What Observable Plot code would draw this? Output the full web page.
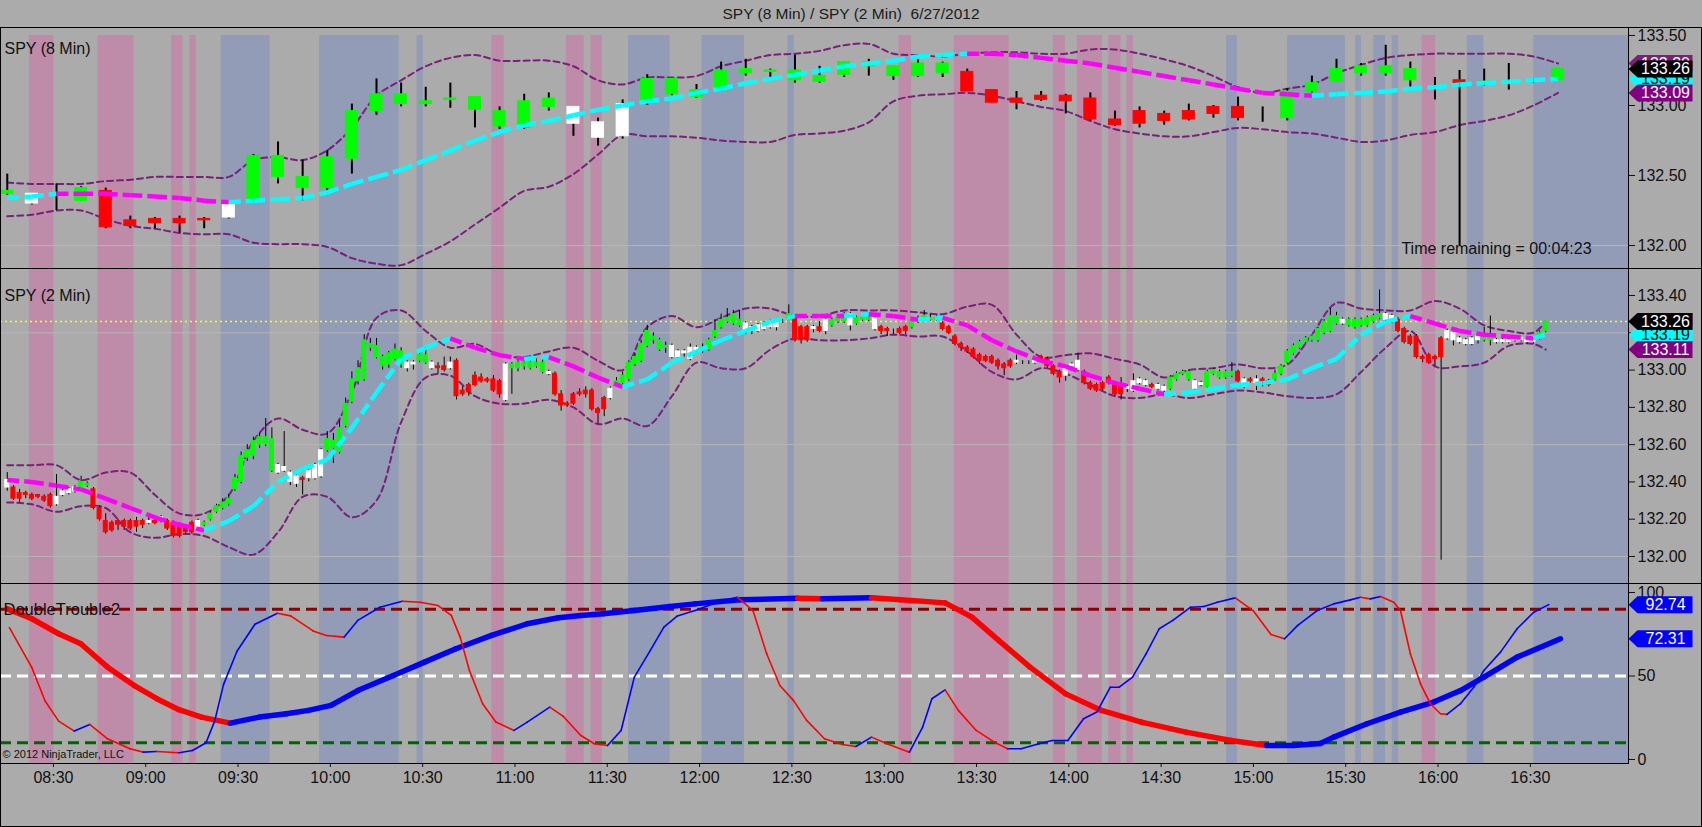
<!DOCTYPE html>
<html><head><meta charset="utf-8">
<script src="https://cdn.jsdelivr.net/npm/d3@7"></script>
<script src="https://cdn.jsdelivr.net/npm/@observablehq/plot@0.6"></script>
<style>
body{margin:0;background:#ababab;font-family:"Liberation Sans",Arial,sans-serif;}
#wrap{position:relative;width:1702px;height:827px;background:#ababab;overflow:hidden}
#title{position:absolute;left:0;top:0;width:1702px;height:27px;line-height:28px;text-align:center;font-size:15.5px;color:#1a1a1a;white-space:pre}
.panel{position:absolute;left:0}
.hl{position:absolute;height:1px;background:#000}
.vl{position:absolute;width:1px;background:#000}
</style></head><body>
<div id="wrap">
<div id="title">SPY (8 Min) / SPY (2 Min)  6/27/2012</div>
<div id="p1" class="panel" style="top:27px"></div>
<div id="p2" class="panel" style="top:268px"></div>
<div id="p3" class="panel" style="top:583px"></div>
<div class="hl" style="left:0;top:27px;width:1702px"></div>
<div class="hl" style="left:0;top:268px;width:1702px"></div>
<div class="hl" style="left:0;top:583px;width:1702px"></div>
<div class="hl" style="left:0;top:763px;width:1629px"></div>
<div class="hl" style="left:0;top:826px;width:1702px"></div>
<div class="vl" style="left:0;top:27px;height:800px"></div>
<div class="vl" style="left:1701px;top:27px;height:800px"></div>
<div class="vl" style="left:1628px;top:27px;height:737px"></div>
</div>
<script>
// ---------------- DATA ----------------
// shaded time bands (minutes after midnight)
const pinkStart = [502.2,524.5,548.4,554.3,652.5,676.7,684.7,784.8,802.8,835.0,842.8,853.0,858.9,954.8];
const pinkEnd   = [510.1,536.2,552.1,556.4,656.5,682.5,688.4,788.9,820.6,838.9,850.9,857.0,861.0,959.2];
const blueStart = [564.5,596.5,628.2,696.9,720.8,748.7,891.3,911.1,933.2,939.1,945.1,969.5,991.1];
const blueEnd   = [580.4,622.4,630.2,710.4,734.6,750.8,894.8,929.9,935.1,942.9,947.2,974.9,1021.9];

// SPY 8 min candles (first bar 08:15, every 8 min)
const o8 = [132.37,132.37,132.32,132.32,132.39,132.18,132.19,132.19,132.19,132.20,
132.32,132.49,132.41,132.41,132.62,132.96,133.01,133.01,133.04,132.97,
132.85,132.84,132.99,132.99,132.88,132.78,133.02,133.08,133.06,133.11,
133.23,133.24,133.18,133.17,133.22,133.28,133.21,133.21,133.23,133.24,
133.11,133.05,133.07,133.07,133.05,132.90,132.96,132.94,132.96,132.99,
132.99,132.91,132.91,133.10,133.17,133.23,133.23,133.18,133.18,133.18,
133.16,133.16,133.18,133.18];
const h8 = [132.51,132.37,132.44,132.42,132.41,132.21,132.20,132.21,132.20,132.32,
132.65,132.74,132.61,132.68,133.01,133.19,133.16,133.13,133.16,133.06,
132.99,133.08,133.09,132.99,132.91,133.04,133.22,133.19,133.15,133.31,
133.33,133.26,133.36,133.28,133.31,133.33,133.28,133.33,133.31,133.26,
133.11,133.10,133.10,133.08,133.09,132.96,132.99,132.96,133.01,133.00,
133.06,132.99,133.12,133.21,133.33,133.30,133.43,133.31,133.20,133.25,
133.26,133.30,133.19,133.26];
const l8 = [132.36,132.29,132.25,132.32,132.12,132.12,132.12,132.09,132.12,132.19,
132.31,132.44,132.32,132.39,132.51,132.93,132.99,132.99,132.98,132.84,
132.83,132.83,132.96,132.78,132.71,132.76,133.00,133.07,133.05,133.10,
133.21,133.20,133.16,133.16,133.20,133.21,133.18,133.20,133.20,133.10,
133.02,132.97,133.03,132.94,132.89,132.85,132.84,132.86,132.89,132.91,
132.89,132.88,132.89,133.09,133.17,133.21,133.21,133.13,133.04,132.00,
133.14,133.11,133.16,133.18];
const c8 = [132.39,132.30,132.32,132.41,132.13,132.14,132.16,132.16,132.18,132.31,
132.64,132.64,132.49,132.63,132.96,133.08,133.08,133.03,133.05,133.06,
132.96,133.03,133.05,132.87,132.77,133.01,133.19,133.19,133.11,133.25,
133.26,133.25,133.25,133.21,133.31,133.31,133.28,133.30,133.30,133.10,
133.02,133.02,133.04,133.03,132.90,132.86,132.87,132.89,132.90,132.94,
132.91,132.91,133.10,133.16,133.26,133.28,133.28,133.26,133.18,133.16,
133.17,133.17,133.18,133.26];
const col8 = "gwwgrrrrrw"+"gggggggggg"+"gggwwwgggg"+"gggggggggr"+"rrrrrrrrrr"+"rrggggggwr"+"ggwg";
const ma8 = [132.34,132.35,132.37,132.37,132.37,132.36,132.35,132.34,132.32,132.31,
132.32,132.33,132.34,132.38,132.44,132.49,132.54,132.61,132.68,132.75,
132.81,132.86,132.89,132.93,132.97,133.00,133.03,133.05,133.09,133.12,
133.16,133.19,133.22,133.25,133.28,133.30,133.32,133.35,133.36,133.37,
133.37,133.36,133.34,133.32,133.30,133.27,133.24,133.21,133.18,133.15,
133.12,133.09,133.08,133.07,133.08,133.09,133.10,133.12,133.13,133.15,
133.16,133.17,133.18,133.19];
const up8 = [132.45,132.44,132.44,132.44,132.46,132.47,132.49,132.49,132.49,132.49,
132.61,132.63,132.61,132.68,132.84,133.07,133.18,133.28,133.34,133.36,
133.32,133.32,133.32,133.28,133.18,133.15,133.20,133.20,133.21,133.28,
133.32,133.36,133.37,133.39,133.43,133.44,133.37,133.36,133.35,133.37,
133.38,133.38,133.37,133.37,133.40,133.40,133.37,133.33,133.28,133.21,
133.13,133.09,133.12,133.15,133.23,133.29,133.34,133.36,133.37,133.37,
133.37,133.37,133.35,133.30];
const lo8 = [132.21,132.22,132.25,132.25,132.19,132.14,132.12,132.09,132.08,132.08,
132.02,132.01,132.01,131.99,131.91,131.87,131.86,131.94,132.03,132.15,
132.27,132.39,132.42,132.51,132.65,132.79,132.78,132.78,132.77,132.75,
132.74,132.74,132.79,132.80,132.82,132.88,133.03,133.07,133.08,133.09,
133.07,133.03,132.99,132.96,132.89,132.83,132.80,132.78,132.78,132.81,
132.84,132.83,132.81,132.80,132.77,132.74,132.75,132.79,132.81,132.86,
132.89,132.93,133.00,133.09];

// SPY 2 min candles (first bar 08:15, every 2 min): body top / bottom, high, low
const top2 = [132.41,132.37,132.34,132.34,132.33,132.33,132.32,132.33,132.32,132.35,
132.36,132.37,132.40,132.39,132.36,132.26,132.19,132.18,132.19,132.19,
132.19,132.19,132.19,132.19,132.19,132.21,132.19,132.18,132.17,132.16,
132.18,132.19,132.18,132.23,132.27,132.29,132.31,132.42,132.54,132.57,
132.62,132.64,132.64,132.63,132.49,132.48,132.45,132.43,132.42,132.46,
132.49,132.57,132.63,132.62,132.69,132.82,132.95,133.01,133.16,133.14,
133.13,133.07,133.09,133.11,133.10,133.04,133.04,133.08,133.08,133.04,
133.02,133.02,133.04,133.05,132.89,132.92,132.97,132.96,132.95,132.95,
132.94,133.03,133.03,133.04,133.04,133.04,133.04,133.04,132.99,132.98,
132.87,132.82,132.87,132.88,132.89,132.89,132.79,132.85,132.90,132.94,
132.97,133.04,133.07,133.14,133.21,133.18,133.16,133.13,133.13,133.10,
133.10,133.12,133.12,133.12,133.16,133.21,133.27,133.28,133.30,133.27,
133.25,133.23,133.24,133.25,133.26,133.26,133.26,133.30,133.28,133.23,
133.23,133.23,133.23,133.27,133.27,133.28,133.30,133.30,133.28,133.28,
133.28,133.28,133.23,133.22,133.21,133.22,133.23,133.26,133.27,133.29,
133.28,133.28,133.25,133.23,133.18,133.14,133.12,133.11,133.08,133.07,
133.07,133.05,133.03,133.05,133.05,133.04,133.04,133.05,133.07,133.06,
133.02,132.99,133.01,133.03,133.05,132.99,132.93,132.92,132.93,132.96,
132.92,132.91,132.91,132.94,132.95,132.94,132.92,132.92,132.91,132.96,
132.98,132.99,132.99,132.94,132.93,132.99,133.00,132.99,132.99,132.99,
132.99,132.95,132.95,132.95,132.95,132.94,132.98,133.02,133.10,133.13,
133.15,133.17,133.18,133.22,133.26,133.29,133.29,133.27,133.27,133.27,
133.27,133.28,133.29,133.30,133.30,133.29,133.27,133.22,133.18,133.18,
133.07,133.08,133.07,133.17,133.21,133.20,133.17,133.16,133.17,133.18,
133.19,133.18,133.16,133.16,133.16,133.17,133.17,133.16,133.16,133.20,
133.26];
const bot2 = [132.37,132.31,132.31,132.33,132.31,132.32,132.30,132.27,132.28,132.33,
132.34,132.35,132.37,132.38,132.26,132.20,132.13,132.14,132.17,132.16,
132.15,132.16,132.17,132.18,132.18,132.19,132.15,132.11,132.11,132.13,
132.13,132.15,132.17,132.20,132.24,132.26,132.28,132.36,132.40,132.53,
132.54,132.60,132.60,132.46,132.45,132.46,132.40,132.39,132.41,132.42,
132.42,132.43,132.57,132.58,132.56,132.70,132.83,132.94,132.95,133.12,
133.07,133.02,133.03,133.06,133.03,133.01,133.03,133.05,133.04,133.01,
133.01,133.00,133.01,132.86,132.87,132.88,132.92,132.94,132.94,132.89,
132.87,132.84,133.01,133.01,133.02,133.01,133.02,132.99,132.98,132.87,
132.81,132.81,132.82,132.87,132.87,132.79,132.77,132.79,132.85,132.92,
132.93,132.95,133.03,133.05,133.13,133.16,133.11,133.12,133.07,133.07,
133.09,133.06,133.10,133.11,133.11,133.18,133.23,133.26,133.25,133.24,
133.21,133.21,133.21,133.22,133.23,133.23,133.26,133.28,133.16,133.16,
133.16,133.22,133.21,133.21,133.24,133.26,133.26,133.24,133.25,133.27,
133.27,133.22,133.21,133.21,133.21,133.20,133.21,133.23,133.26,133.27,
133.27,133.27,133.22,133.20,133.14,133.12,133.10,133.07,133.05,133.05,
133.04,133.02,133.01,133.02,133.04,133.04,133.04,133.04,133.06,133.02,
132.98,132.96,132.97,133.02,133.00,132.93,132.90,132.89,132.90,132.93,
132.87,132.87,132.90,132.89,132.93,132.92,132.91,132.90,132.89,132.90,
132.95,132.98,132.95,132.90,132.92,132.91,132.98,132.96,132.96,132.97,
132.94,132.91,132.94,132.93,132.92,132.92,132.95,132.98,133.04,133.09,
133.12,133.15,133.16,133.16,133.20,133.21,133.25,133.25,133.24,133.23,
133.24,133.24,133.26,133.28,133.27,133.27,133.21,133.15,133.14,133.07,
133.06,133.04,133.06,133.07,133.17,133.16,133.15,133.14,133.14,133.16,
133.16,133.16,133.15,133.15,133.15,133.16,133.16,133.15,133.15,133.17,
133.21];
const hi2 = [132.45,132.38,132.36,132.35,132.34,132.33,132.33,132.34,132.44,132.36,
132.37,132.38,132.43,132.40,132.37,132.27,132.23,132.19,132.20,132.20,
132.20,132.21,132.20,132.22,132.20,132.22,132.20,132.19,132.18,132.17,
132.19,132.20,132.19,132.24,132.28,132.31,132.33,132.44,132.56,132.60,
132.64,132.66,132.74,132.69,132.50,132.67,132.46,132.44,132.43,132.47,
132.50,132.58,132.67,132.66,132.73,132.85,132.99,133.05,133.19,133.17,
133.17,133.08,133.10,133.14,133.12,133.05,133.05,133.10,133.12,133.05,
133.04,133.07,133.07,133.06,132.91,132.93,132.99,132.98,132.96,132.97,
132.95,133.04,133.04,133.05,133.05,133.06,133.06,133.07,133.00,132.99,
132.89,132.83,132.88,132.90,132.91,132.90,132.80,132.86,132.91,132.96,
132.99,133.05,133.09,133.16,133.24,133.20,133.17,133.15,133.14,133.11,
133.11,133.14,133.13,133.14,133.17,133.27,133.30,133.33,133.32,133.32,
133.26,133.24,133.25,133.26,133.27,133.27,133.27,133.35,133.29,133.24,
133.24,133.24,133.26,133.28,133.28,133.29,133.31,133.31,133.29,133.30,
133.29,133.29,133.24,133.23,133.22,133.23,133.24,133.27,133.29,133.32,
133.30,133.29,133.26,133.24,133.19,133.15,133.13,133.12,133.09,133.08,
133.08,133.06,133.04,133.06,133.08,133.05,133.05,133.06,133.08,133.07,
133.03,133.00,133.02,133.04,133.09,133.00,132.94,132.93,132.94,132.97,
132.94,132.96,132.92,132.98,132.96,132.95,132.93,132.93,132.92,132.97,
132.99,133.00,133.00,132.95,132.94,133.00,133.01,133.00,133.00,133.04,
133.00,132.96,132.96,132.97,132.96,132.95,133.00,133.03,133.11,133.14,
133.16,133.18,133.19,133.23,133.27,133.33,133.31,133.28,133.28,133.28,
133.28,133.29,133.30,133.43,133.31,133.30,133.28,133.23,133.19,133.19,
133.08,133.09,133.08,133.18,133.22,133.21,133.18,133.17,133.18,133.19,
133.23,133.29,133.17,133.17,133.17,133.17,133.17,133.17,133.17,133.21,
133.26];
const lo2 = [132.35,132.30,132.29,132.31,132.30,132.31,132.29,132.26,132.27,132.32,
132.33,132.34,132.37,132.37,132.25,132.19,132.12,132.13,132.14,132.14,
132.14,132.13,132.15,132.17,132.17,132.18,132.14,132.10,132.10,132.12,
132.12,132.14,132.16,132.19,132.23,132.25,132.27,132.35,132.39,132.51,
132.52,132.58,132.59,132.45,132.44,132.45,132.38,132.37,132.33,132.40,
132.41,132.42,132.56,132.50,132.55,132.69,132.82,132.92,132.94,133.10,
133.06,133.00,133.01,133.05,133.01,132.99,133.00,133.04,133.03,133.00,
132.98,132.99,133.00,132.84,132.86,132.86,132.91,132.93,132.93,132.88,
132.85,132.83,132.87,132.99,133.00,133.00,133.01,132.98,132.97,132.86,
132.78,132.80,132.81,132.86,132.85,132.78,132.71,132.75,132.84,132.91,
132.92,132.94,133.02,133.04,133.12,133.14,133.10,133.09,133.06,133.06,
133.07,133.05,133.09,133.09,133.10,133.17,133.22,133.25,133.24,133.23,
133.19,133.19,133.20,133.21,133.22,133.21,133.25,133.27,133.15,133.14,
133.15,133.20,133.20,133.19,133.23,133.25,133.25,133.21,133.24,133.26,
133.26,133.21,133.19,133.18,133.19,133.19,133.19,133.22,133.25,133.26,
133.26,133.26,133.21,133.19,133.13,133.10,133.09,133.06,133.03,133.04,
133.03,133.00,132.97,133.01,133.03,133.03,133.03,133.03,133.04,133.01,
132.97,132.93,132.94,133.00,132.99,132.92,132.89,132.88,132.89,132.92,
132.86,132.84,132.88,132.88,132.92,132.91,132.90,132.89,132.88,132.89,
132.94,132.97,132.94,132.89,132.91,132.90,132.97,132.95,132.95,132.96,
132.93,132.90,132.93,132.89,132.91,132.91,132.94,132.97,133.03,133.08,
133.11,133.14,133.15,133.15,133.19,133.20,133.24,133.24,133.23,133.22,
133.23,133.23,133.25,133.27,133.26,133.25,133.20,133.14,133.13,133.06,
133.04,133.03,133.02,131.98,133.16,133.13,133.14,133.13,133.13,133.14,
133.15,133.13,133.14,133.14,133.14,133.15,133.15,133.14,133.14,133.16,
133.20];
const col2 = ["w","rrrrrrr","wwww","gg","rrrrrrrrr","w","r","w","rrrrr","w","gggggggggggg","wwww","r","www",
"ggggggggggggg","ww","gg","w","rr","w","rrrrrrrr","w","gggggg","w","rrrrrrrrr","w","ggggggggg","wwwww",
"ggggggg","wwwwwww","g","rrr","w","r","w","ggg","w","ggg","w","rrrrr","ggggg","rrrrrrrrrrrr","ww","r","w",
"rrrr","www","rrrrrrr","wwww","r","ww","gggg","ww","ggggg","r","w","r","w","rr","ggggggggggg","w","gggggg",
"ww","rrrrrrrr","wwwwww","gg","wwwwwww","gg"].join("");
// 2 min moving average and bands, sampled every 8 min from 08:15, last point at 16:35
const ma2 = [132.41,132.40,132.38,132.36,132.31,132.26,132.21,132.17,132.14,132.19,
132.27,132.40,132.47,132.52,132.69,132.88,133.06,133.12,133.17,133.12,
133.08,133.06,133.07,133.02,132.96,132.91,132.95,133.04,133.10,133.16,
133.21,133.26,133.29,133.29,133.29,133.30,133.29,133.27,133.28,133.24,
133.16,133.10,133.05,133.02,132.97,132.93,132.90,132.87,132.88,132.90,
132.92,132.93,132.95,133.01,133.06,133.19,133.26,133.29,133.25,133.21,
133.19,133.18,133.17,133.19];
const up2 = [132.49,132.49,132.49,132.41,132.45,132.45,132.33,132.23,132.23,132.33,
132.62,132.74,132.68,132.66,132.88,133.28,133.32,133.21,133.12,133.14,
133.08,133.07,133.10,133.12,133.05,133.00,133.23,133.29,133.23,133.28,
133.33,133.33,133.29,133.29,133.32,133.32,133.32,133.31,133.30,133.34,
133.35,133.19,133.07,133.08,133.09,133.06,133.03,132.96,133.00,133.01,
133.03,133.01,133.03,133.19,133.36,133.33,133.32,133.32,133.37,133.33,
133.24,133.21,133.20,133.26];
const dn2 = [132.29,132.28,132.24,132.27,132.26,132.13,132.10,132.12,132.11,132.05,
132.01,132.13,132.32,132.32,132.21,132.30,132.72,132.96,132.97,132.86,
132.82,132.82,132.84,132.80,132.71,132.74,132.70,132.86,133.04,133.01,
133.01,133.11,133.17,133.16,133.16,133.17,133.19,133.18,133.18,133.10,
132.99,132.95,133.01,132.98,132.92,132.86,132.85,132.87,132.85,132.87,
132.89,132.88,132.86,132.85,132.87,132.99,133.12,133.21,133.02,133.02,
133.04,133.13,133.14,133.11];

// DoubleTrouble2 indicator: fast (thin) and slow (thick) lines
const fastT = [495.7,503.0,507.3,511.7,516.8,521.8,527.6,534.9,539.2,543.6,550.8,555.2,559.6,562.4,565.3,569.7,575.5,582.8,587.1,594.4,
598.7,604.5,608.9,616.1,623.4,629.2,635.0,639.3,642.2,645.2,649.5,653.8,659.7,664.0,671.3,675.6,681.4,685.8,690.1,694.5,
698.8,704.0,708.4,712.8,718.5,725.8,732.3,737.4,741.8,746.1,750.5,754.8,760.6,766.4,770.8,775.9,780.9,788.2,792.5,795.5,
799.8,804.1,809.9,815.8,820.1,824.5,830.3,834.6,839.7,844.8,849.1,853.5,856.4,860.7,865.1,869.4,873.8,879.6,883.9,888.3,
894.1,899.9,905.7,910.1,914.4,920.7,926.1,931.5,934.8,938.0,941.3,945.6,947.8,951.0,954.3,957.5,960.8,962.9,967.3,971.6,
974.9,980.3,985.7,991.1,996.0];
const fastV = [79,55,35,23,17,21,12.4,6.4,4.4,4.8,4,5.4,10,23,45,65,81,87.6,86,77,
74.3,73.3,83.3,91.2,94.8,94.2,92.2,86.3,73.3,53.3,33.4,22.4,17.4,22.4,31.4,26,14.4,9.4,8.4,17.4,
49.3,65.3,79.3,86,89.2,94.2,97.2,89,63.3,44.3,35.4,23.4,12.4,9,7.8,13.4,9.4,4.4,19.4,36.4,
41.7,29.4,17.4,10.4,6.4,6.4,9.4,11.4,11.4,24.4,28.4,43.3,43.3,49.3,63.3,78.3,83.3,91.2,91.6,94.2,
96.8,89.2,74.9,72.3,80.3,89.2,93.2,95.6,97.2,96.2,97.6,94.2,89.2,63.3,45.3,33.4,27.4,27,33.4,43.3,
53.3,64.3,78.3,88.2,92.74];
const slowT = [495.0,503.0,511.7,518.9,527.6,536.3,543.6,550.8,558.1,567.5,577.0,585.7,592.9,600.2,608.9,620.5,630.6,640.8,652.4,664.0,
674.1,681.4,688.7,698.8,710.4,718.5,733.1,751.9,759.9,775.9,785.3,799.8,808.5,817.2,827.4,839.0,850.6,863.6,878.1,892.7,
904.3,913.0,921.7,926.1,936.9,947.8,958.6,967.3,974.9,985.7,999.8];
const slowV = [90.2,84.3,75.3,69.3,55.3,44.3,36.4,29.8,25.4,21.8,25.4,27.4,29.4,32.4,41.3,50.3,58.3,66.3,74.3,81.3,
84.9,86.3,87.3,89.2,91.6,93.2,95.6,96.6,96.2,96.8,95.6,93.8,85.3,71.3,55.3,39.3,29.4,22.4,16.4,11.4,
8.4,8.4,9.6,13.4,21.4,28.4,34.4,41.3,49.3,61.3,72.31];
const dtLevels = [90, 50, 10];

// axis ticks
const xTicks = [510,540,570,600,630,660,690,720,750,780,810,840,870,900,930,960,990];
const yTicks1 = [132.0,132.5,133.0,133.5];
const yTicks2 = [132.0,132.2,132.4,132.6,132.8,133.0,133.2,133.4];
const yTicks3 = [0,50,100];

// ---------------- BUILD ----------------
const FONT = '"Liberation Sans", Arial, sans-serif';
const W = 1702, MR = 74;
const xDom = [492.8, 1021.9];
const colorOf = {g:"#00ff00", r:"#ff0000", w:"#ffffff"};
const PINK = "#be8ca8", BLUE = "#929cb6", PURPLE = "#7a1f7a", GRID = "#b5b5b5";
const f2 = d3.format(".2f");
const fmtT = m => String(Math.floor(m/60)).padStart(2,"0")+":"+String(m%60).padStart(2,"0");

const bands = [
  ...pinkStart.map((s,i)=>({s, e:pinkEnd[i], f:PINK})),
  ...blueStart.map((s,i)=>({s, e:blueEnd[i], f:BLUE}))
];
const t8 = o8.map((_,i)=>495+8*i);
const cand8 = o8.map((o,i)=>({t:t8[i], o, c:c8[i], h:h8[i], l:l8[i], f:colorOf[col8[i]]}));
const cand2 = top2.map((tp,i)=>({t:495+2*i, o:tp, c:bot2[i], h:hi2[i], l:lo2[i], f:colorOf[col2[i]]}));
const t2s = ma2.map((_,i)=> i < ma2.length-1 ? 495+8*i : cand2[cand2.length-1].t);

function segs(ts, vs, up, down, strict){
  const out=[];
  for(let i=1;i<vs.length;i++){
    const rising = strict ? vs[i] > vs[i-1] : vs[i] >= vs[i-1];
    out.push({x1:ts[i-1], y1:vs[i-1], x2:ts[i], y2:vs[i], s: rising ? up : down});
  }
  return out;
}
const tagSymbol = {draw(ctx){ctx.moveTo(0,0);ctx.lineTo(9,-8.5);ctx.lineTo(64,-8.5);ctx.lineTo(64,8.5);ctx.lineTo(9,8.5);ctx.closePath();}};
function tags(list){
  // each tag: box then its text, so later tags cover earlier ones
  return list.flatMap(d => [
    Plot.dot([d], {y:"v", fill:"f", symbol: tagSymbol, frameAnchor:"right"}),
    Plot.text([d], {y:"v", text: e=>f2(e.v), fill:"tc", frameAnchor:"right", dx:37, textAnchor:"middle", fontSize:16})
  ]);
}
const baseStyle = {background:"transparent", fontFamily: FONT, fontSize:"16px", color:"#111"};

// ---- Panel 1 : SPY 8 min ----
const y1Dom = [131.836, 133.557];
const p1 = Plot.plot({
  width: W, height: 241, marginLeft: 0, marginRight: MR, marginTop: 0, marginBottom: 0,
  style: baseStyle,
  x: {domain: xDom, axis: null},
  y: {domain: y1Dom, axis: "right", ticks: yTicks1, tickFormat: ".2f", tickSize: 6, tickPadding: 3, label: null},
  color: {type: "identity"},
  marks: [
    Plot.rect(bands, {x1:"s", x2:"e", y1: () => y1Dom[0], y2: () => yTicks1[3], fill:"f"}),
    Plot.ruleY([yTicks1[0]], {stroke:GRID, strokeWidth:1}),
    Plot.line(t8.map((t,i)=>({t, v:up8[i]})), {x:"t", y:"v", stroke:PURPLE, strokeWidth:2, strokeDasharray:"6,4", curve:"catmull-rom"}),
    Plot.line(t8.map((t,i)=>({t, v:lo8[i]})), {x:"t", y:"v", stroke:PURPLE, strokeWidth:2, strokeDasharray:"6,4", curve:"catmull-rom"}),
    Plot.ruleX(cand8, {x:"t", y1:"l", y2:"h", stroke:"#000", strokeWidth:2}),
    Plot.rect(cand8, {x1: d=>d.t-1.95, x2: d=>d.t+1.95, y1:"o", y2:"c", fill:"f", stroke:"f", strokeWidth:1}),
    Plot.link(segs(t8, ma8, "#00ffff", "#ff00ff", true), {x1:"x1", y1:"y1", x2:"x2", y2:"y2", stroke:"s", strokeWidth:4.5, strokeDasharray:"12,5"}),
    Plot.text(["SPY (8 Min)"], {text: d=>d, frameAnchor:"top-left", dx:4, dy:15, textAnchor:"start", fontSize:16, fill:"#111"}),
    Plot.text([yTicks1[0]], {y: d=>d, text: () => "Time remaining = 00:04:23", frameAnchor:"right", dx:-132, dy:3, textAnchor:"middle", fontSize:16, fill:"#111"}),
    ...tags([
      {v: up8[up8.length-1], f: PURPLE, tc:"#fff"},
      {v: ma8[ma8.length-1], f: "#00ffff", tc:"#000"},
      {v: c8[c8.length-1], f: "#000", tc:"#fff"},
      {v: lo8[lo8.length-1], f: "#800080", tc:"#fff"}
    ])
  ]
});
document.getElementById("p1").appendChild(p1);

// ---- Panel 2 : SPY 2 min ----
const y2Dom = [131.855, 133.545];
const last2 = top2[top2.length-1];
const p2 = Plot.plot({
  width: W, height: 315, marginLeft: 0, marginRight: MR, marginTop: 0, marginBottom: 0,
  style: baseStyle,
  x: {domain: xDom, axis: null},
  y: {domain: y2Dom, axis: "right", ticks: yTicks2, tickFormat: ".2f", tickSize: 6, tickPadding: 3, label: null},
  color: {type: "identity"},
  marks: [
    Plot.rect(bands, {x1:"s", x2:"e", fill:"f"}),
    Plot.ruleY([yTicks2[0], yTicks2[3], yTicks2[6]], {stroke:GRID, strokeWidth:1}),
    Plot.ruleY([last2], {stroke:"#ffff00", strokeWidth:1.5, strokeDasharray:"2,3"}),
    Plot.line(t2s.map((t,i)=>({t, v:up2[i]})), {x:"t", y:"v", stroke:PURPLE, strokeWidth:2, strokeDasharray:"6,4", curve:"catmull-rom"}),
    Plot.line(t2s.map((t,i)=>({t, v:dn2[i]})), {x:"t", y:"v", stroke:PURPLE, strokeWidth:2, strokeDasharray:"6,4", curve:"catmull-rom"}),
    Plot.ruleX(cand2, {x:"t", y1:"l", y2:"h", stroke:"#000", strokeWidth:1}),
    Plot.rect(cand2, {x1: d=>d.t-0.65, x2: d=>d.t+0.65, y1:"o", y2:"c", fill:"f", stroke:"f", strokeWidth:1}),
    Plot.link(segs(t2s, ma2, "#00ffff", "#ff00ff", true), {x1:"x1", y1:"y1", x2:"x2", y2:"y2", stroke:"s", strokeWidth:4.5, strokeDasharray:"12,5"}),
    Plot.text(["SPY (2 Min)"], {text: d=>d, frameAnchor:"top-left", dx:4, dy:21, textAnchor:"start", fontSize:16, fill:"#111"}),
    ...tags([
      {v: up2[up2.length-1], f: PURPLE, tc:"#fff"},
      {v: ma2[ma2.length-1], f: "#00ffff", tc:"#000"},
      {v: last2, f: "#000", tc:"#fff"},
      {v: dn2[dn2.length-1], f: "#800080", tc:"#fff"}
    ])
  ]
});
document.getElementById("p2").appendChild(p2);

// ---- Panel 3 : DoubleTrouble2 ----
const p3 = Plot.plot({
  width: W, height: 244, marginLeft: 0, marginRight: MR, marginTop: 0, marginBottom: 64,
  style: baseStyle,
  x: {domain: xDom, axis: "bottom", ticks: xTicks, tickFormat: fmtT, tickSize: 4, tickPadding: 4, label: null},
  y: {domain: [-2.4, 105.4], axis: "right", ticks: yTicks3, tickSize: 6, tickPadding: 3, label: null},
  color: {type: "identity"},
  marks: [
    Plot.rect(bands, {x1:"s", x2:"e", fill:"f"}),
    Plot.ruleY([dtLevels[0]], {stroke:"#8b0000", strokeWidth:3, strokeDasharray:"11,6"}),
    Plot.ruleY([dtLevels[1]], {stroke:"#ffffff", strokeWidth:3, strokeDasharray:"11,6"}),
    Plot.ruleY([dtLevels[2]], {stroke:"#006400", strokeWidth:3, strokeDasharray:"11,6"}),
    Plot.link(segs(slowT, slowV, "#0000ff", "#ff0000", false), {x1:"x1", y1:"y1", x2:"x2", y2:"y2", stroke:"s", strokeWidth:5.5, strokeLinecap:"round"}),
    Plot.link(segs(fastT, fastV, "#0000ff", "#ff0000", false), {x1:"x1", y1:"y1", x2:"x2", y2:"y2", stroke:"s", strokeWidth:1.6, strokeLinecap:"round"}),
    Plot.text(["DoubleTrouble2"], {text: d=>d, frameAnchor:"top-left", dx:3, dy:20, textAnchor:"start", fontSize:16.5, fill:"#111"}),
    Plot.text(["\u00a9 2012 NinjaTrader, LLC"], {text: d=>d, frameAnchor:"bottom-left", dx:2, dy:-6, textAnchor:"start", fontSize:11, fill:"#111"}),
    ...tags([
      {v: fastV[fastV.length-1], f:"#0000ff", tc:"#fff"},
      {v: slowV[slowV.length-1], f:"#0000ff", tc:"#fff"}
    ])
  ]
});
document.getElementById("p3").appendChild(p3);
</script>
</body></html>
